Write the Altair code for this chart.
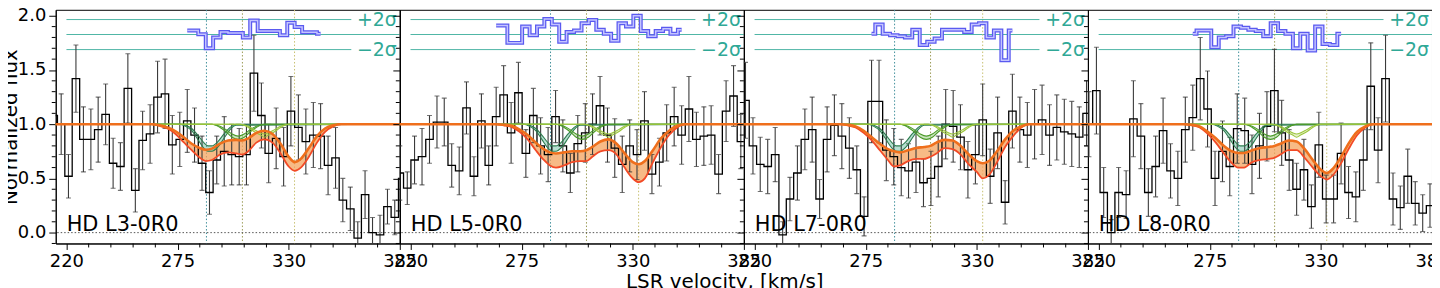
import altair as alt
import pandas as pd

# ---------------- data ----------------
PANEL_LABELS = ["HD L3-0R0", "HD L5-0R0", "HD L7-0R0", "HD L8-0R0"]

VEL_L3 = [213.7, 217.4, 221.0, 224.7, 228.4, 232.1, 235.7, 239.4, 243.1, 246.7, 250.4, 254.1,
          257.7, 261.4, 265.1, 268.8, 272.4, 276.1, 279.8, 283.4, 287.1, 290.8, 294.4, 298.1,
          301.8, 305.5, 309.1, 312.8, 316.5, 320.1, 323.8, 327.5, 331.1, 334.8, 338.5, 342.2,
          345.8, 349.5, 353.2, 356.8, 360.5, 364.2, 367.8, 371.5, 375.2, 378.9, 382.5, 386.2]
VEL_L5 = [214.7, 218.4, 222.0, 225.7, 229.4, 233.1, 236.7, 240.4, 244.1, 247.7, 251.4, 255.1,
          258.7, 262.4, 266.1, 269.8, 273.4, 277.1, 280.8, 284.4, 288.1, 291.8, 295.4, 299.1,
          302.8, 306.5, 310.1, 313.8, 317.5, 321.1, 324.8, 328.5, 332.1, 335.8, 339.5, 343.2,
          346.8, 350.5, 354.2, 357.8, 361.5, 365.2, 368.8, 372.5, 376.2, 379.9, 383.5, 387.2]
VEL_L7 = [215.5, 219.2, 222.8, 226.5, 230.2, 233.9, 237.5, 241.2, 244.9, 248.5, 252.2, 255.9,
          259.5, 263.2, 266.9, 270.6, 274.2, 277.9, 281.6, 285.2, 288.9, 292.6, 296.2, 299.9,
          303.6, 307.3, 310.9, 314.6, 318.3, 321.9, 325.6, 329.3, 332.9, 336.6, 340.3, 344.0,
          347.6, 351.3, 355.0, 358.6, 362.3, 366.0, 369.6, 373.3, 377.0, 380.7, 384.3, 388.0]
VEL_L8 = [215.2, 218.9, 222.5, 226.2, 229.9, 233.6, 237.2, 240.9, 244.6, 248.2, 251.9, 255.6,
          259.2, 262.9, 266.6, 270.3, 273.9, 277.6, 281.3, 284.9, 288.6, 292.3, 295.9, 299.6,
          303.3, 307.0, 310.6, 314.3, 318.0, 321.6, 325.3, 329.0, 332.6, 336.3, 340.0, 343.7,
          347.3, 351.0, 354.7, 358.3, 362.0, 365.7, 369.3, 373.0, 376.7, 380.4, 384.0, 387.7]

FLUX_L3 = [1.08, 1.00, 0.52, 1.42, 0.86, 0.86, 0.95, 1.09, 0.64, 0.61, 1.33, 0.39,
           0.85, 0.91, 1.25, 1.28, 0.81, 0.86, 1.03, 0.90, 0.64, 0.37, 0.67, 0.75,
           0.72, 0.70, 0.72, 1.47, 1.08, 0.73, 0.87, 0.70, 1.12, 0.97, 0.84, 0.90,
           0.89, 0.62, 0.69, 0.30, 0.22, -0.05, 0.35, 0.00, -0.02, 0.24, 0.14, 0.50]
ERR_L3 = [0.28, 0.28, 0.20, 0.31, 0.30, 0.28, 0.30, 0.28, 0.23, 0.22, 0.32, 0.20,
          0.27, 0.27, 0.33, 0.32, 0.27, 0.25, 0.29, 0.25, 0.25, 0.20, 0.22, 0.32,
          0.28, 0.26, 0.28, 0.35, 0.30, 0.27, 0.28, 0.27, 0.32, 0.30, 0.30, 0.30,
          0.30, 0.27, 0.28, 0.20, 0.20, 0.15, 0.22, 0.14, 0.18, 0.16, 0.16, 0.20]

FLUX_L5 = [0.55, 0.41, 0.67, 0.70, 0.86, 1.02, 1.02, 0.62, 0.57, 1.15, 0.52, 1.03,
           0.62, 1.07, 1.27, 0.92, 1.29, 0.73, 1.08, 0.80, 0.72, 1.07, 0.80, 0.55,
           0.82, 0.92, 1.00, 1.17, 0.90, 0.78, 0.63, 0.80, 0.72, 1.03, 0.54, 0.65,
           0.92, 1.07, 0.90, 1.14, 0.86, 0.89, 0.90, 0.54, 1.12, 1.26, 0.84, 1.20]
ERR_L5 = [0.25, 0.15, 0.22, 0.26, 0.22, 0.24, 0.22, 0.20, 0.22, 0.24, 0.18, 0.25,
          0.18, 0.27, 0.27, 0.28, 0.28, 0.22, 0.25, 0.26, 0.25, 0.24, 0.24, 0.18,
          0.26, 0.27, 0.28, 0.27, 0.25, 0.27, 0.26, 0.24, 0.23, 0.27, 0.18, 0.22,
          0.26, 0.27, 0.27, 0.30, 0.25, 0.27, 0.27, 0.18, 0.28, 0.28, 0.25, 0.28]

FLUX_L7 = [1.22, 0.80, 0.63, 0.61, 0.72, -0.02, 0.31, 0.55, 0.86, 0.95, 0.31, 0.86,
           0.99, 0.89, 0.78, 0.58, 0.15, 1.21, 1.21, 0.76, 0.70, 0.60, 0.57, 0.65,
           0.46, 0.50, 0.61, 1.00, 0.98, 0.88, 0.58, 0.72, 1.04, 0.52, 0.92, 0.28,
           1.12, 0.95, 0.90, 1.00, 1.04, 0.90, 0.97, 0.93, 0.91, 0.88, 1.10, 1.10]
ERR_L7 = [0.35, 0.26, 0.25, 0.25, 0.25, 0.12, 0.20, 0.25, 0.28, 0.30, 0.18, 0.30,
          0.28, 0.30, 0.28, 0.22, 0.18, 0.38, 0.38, 0.28, 0.26, 0.26, 0.25, 0.28,
          0.22, 0.25, 0.28, 0.32, 0.33, 0.30, 0.26, 0.27, 0.33, 0.25, 0.33, 0.20,
          0.34, 0.30, 0.30, 0.32, 0.32, 0.28, 0.30, 0.30, 0.30, 0.28, 0.30, 0.30]

FLUX_L8 = [1.00, 1.31, 0.37, 0.00, 0.37, 0.35, 1.05, 0.89, 0.37, 0.61, 0.94, 0.57,
           0.50, 0.95, 1.06, 1.42, 1.14, 0.50, 0.75, 0.61, 0.96, 0.94, 0.63, 0.80,
           0.98, 1.31, 0.92, 0.67, 0.40, 0.58, 0.24, 0.81, 0.31, 0.31, 0.73, 0.37,
           0.33, 0.67, 1.35, 0.76, 1.42, 0.31, 0.23, 0.52, 0.27, 0.18, 0.25, 0.25]
ERR_L8 = [0.30, 0.40, 0.23, 0.12, 0.23, 0.22, 0.35, 0.30, 0.22, 0.28, 0.30, 0.25,
          0.25, 0.30, 0.30, 0.38, 0.35, 0.25, 0.28, 0.27, 0.32, 0.30, 0.27, 0.30,
          0.32, 0.38, 0.30, 0.28, 0.24, 0.28, 0.20, 0.30, 0.22, 0.22, 0.28, 0.24,
          0.23, 0.28, 0.40, 0.30, 0.40, 0.24, 0.20, 0.25, 0.20, 0.17, 0.20, 0.20]

# residuals (blue, top): first bin index and values
RES_START = [18, 13, 17, 14]
RES_L3 = [1.865, 1.865, 1.83, 1.70, 1.80, 1.85, 1.84, 1.84, 1.80, 1.957, 1.86, 1.86,
          1.86, 1.82, 1.935, 1.896, 1.847, 1.847, 1.835]
RES_L5 = [1.91, 1.91, 1.75, 1.75, 1.90, 1.82, 1.90, 1.97, 1.92, 1.76, 1.85, 1.865, 1.93,
          1.96, 1.87, 1.835, 1.77, 1.93, 1.90, 2.00, 1.86, 1.81, 1.86, 1.88, 1.835, 1.87]
RES_L7 = [1.835, 1.92, 1.835, 1.82, 1.81, 1.80, 1.87, 1.73, 1.76, 1.79, 1.87, 1.87,
          1.87, 1.85, 1.92, 1.93, 1.80, 1.865, 1.59, 1.865]
RES_L8 = [1.835, 1.865, 1.865, 1.71, 1.80, 1.81, 1.90, 1.89, 1.87, 1.86, 1.81, 1.93,
          1.86, 1.835, 1.70, 1.835, 1.68, 1.90, 1.74, 1.73, 1.835]

SIGMA_LEVELS = [1.965, 1.827, 1.688]   # +2 sigma, centre, -2 sigma

# full model (orange band): upper / lower edge
MODEL_V = [214, 262, 266, 270, 274, 278, 282, 286, 289, 292, 296, 300, 304, 307, 310,
           314, 318, 322, 326, 330, 333, 336, 340, 344, 348, 352, 356, 386]
UP_L3 = [1.0, 1.0, 0.99, 0.97, 0.935, 0.88, 0.82, 0.78, 0.765, 0.775, 0.82, 0.85, 0.855,
         0.85, 0.87, 0.92, 0.94, 0.91, 0.82, 0.70, 0.65, 0.68, 0.78, 0.89, 0.96, 0.99, 1.0, 1.0]
LO_L3 = [1.0, 1.0, 0.985, 0.96, 0.91, 0.835, 0.76, 0.69, 0.66, 0.67, 0.72, 0.74, 0.73,
         0.72, 0.75, 0.83, 0.86, 0.83, 0.73, 0.61, 0.57, 0.60, 0.70, 0.83, 0.93, 0.98, 1.0, 1.0]
UP_L5 = [1.0, 1.0, 0.995, 0.985, 0.95, 0.90, 0.83, 0.77, 0.74, 0.73, 0.74, 0.75, 0.75,
         0.76, 0.79, 0.84, 0.86, 0.82, 0.73, 0.65, 0.63, 0.66, 0.76, 0.87, 0.94, 0.985, 1.0, 1.0]
LO_L5 = [1.0, 1.0, 0.99, 0.975, 0.93, 0.86, 0.76, 0.67, 0.62, 0.60, 0.62, 0.65, 0.66,
         0.66, 0.70, 0.75, 0.76, 0.72, 0.60, 0.50, 0.465, 0.50, 0.65, 0.79, 0.90, 0.97, 1.0, 1.0]
UP_L7 = [1.0, 1.0, 0.995, 0.98, 0.94, 0.88, 0.82, 0.77, 0.75, 0.74, 0.76, 0.78, 0.79,
         0.80, 0.83, 0.855, 0.85, 0.80, 0.72, 0.66, 0.64, 0.66, 0.75, 0.86, 0.94, 0.98, 1.0, 1.0]
LO_L7 = [1.0, 1.0, 0.99, 0.97, 0.92, 0.85, 0.76, 0.67, 0.61, 0.62, 0.66, 0.68, 0.68,
         0.70, 0.73, 0.78, 0.77, 0.72, 0.63, 0.56, 0.50, 0.53, 0.65, 0.79, 0.89, 0.97, 1.0, 1.0]
UP_L8 = [1.0, 1.0, 0.995, 0.98, 0.93, 0.87, 0.80, 0.75, 0.735, 0.735, 0.76, 0.78, 0.79,
         0.80, 0.82, 0.85, 0.84, 0.77, 0.67, 0.58, 0.55, 0.59, 0.70, 0.83, 0.93, 0.98, 1.0, 1.0]
LO_L8 = [1.0, 1.0, 0.99, 0.97, 0.91, 0.83, 0.73, 0.64, 0.60, 0.60, 0.65, 0.67, 0.68,
         0.69, 0.72, 0.76, 0.76, 0.69, 0.60, 0.52, 0.49, 0.53, 0.64, 0.78, 0.90, 0.97, 1.0, 1.0]

# individual (green) components: velocity, upper edge, lower edge
COMP_A_V = [214, 276, 279, 282, 285, 288, 290, 292, 295, 298, 301, 304, 386]
COMP_A_UP = [1.0, 1.0, 0.99, 0.96, 0.90, 0.83, 0.80, 0.80, 0.84, 0.91, 0.97, 1.0, 1.0]
COMP_A_LO = [1.0, 1.0, 0.98, 0.94, 0.86, 0.78, 0.75, 0.75, 0.79, 0.87, 0.95, 0.99, 1.0]
COMP_B_V = [214, 292, 296, 299, 302, 305, 308, 311, 314, 318, 386]
COMP_B_UP = [1.0, 1.0, 0.98, 0.95, 0.91, 0.89, 0.91, 0.95, 0.98, 1.0, 1.0]
COMP_B_LO = [1.0, 1.0, 0.97, 0.93, 0.88, 0.86, 0.88, 0.93, 0.97, 1.0, 1.0]
COMP_C_V = [214, 306, 310, 313, 316, 318, 320, 323, 326, 330, 386]
COMP_C_UP = [1.0, 1.0, 0.98, 0.95, 0.92, 0.91, 0.92, 0.95, 0.98, 1.0, 1.0]
COMP_C_LO = [1.0, 1.0, 0.97, 0.93, 0.90, 0.88, 0.90, 0.93, 0.97, 1.0, 1.0]

COMP_LINES_V = [289.3, 307.1, 332.9]

X_MAJOR = [220, 275, 330, 385]
X_MINOR = [231, 242, 253, 264, 286, 297, 308, 319, 341, 352, 363, 374]
Y_MAJOR = [0.0, 0.5, 1.0, 1.5, 2.0]
Y_MINOR = [-0.1, 0.1, 0.2, 0.3, 0.4, 0.6, 0.7, 0.8, 0.9, 1.1, 1.2, 1.3, 1.4, 1.6, 1.7,
           1.8, 1.9]

PANELS = [
    (VEL_L3, FLUX_L3, ERR_L3, RES_L3, UP_L3, LO_L3),
    (VEL_L5, FLUX_L5, ERR_L5, RES_L5, UP_L5, LO_L5),
    (VEL_L7, FLUX_L7, ERR_L7, RES_L7, UP_L7, LO_L7),
    (VEL_L8, FLUX_L8, ERR_L8, RES_L8, UP_L8, LO_L8),
]

# ---------------- styling ----------------
W, H = 346, 235
XS = alt.Scale(domain=[214.7, 385.0], nice=False, zero=False)
YS = alt.Scale(domain=[-0.1, 2.055], nice=False, zero=False)
FONT = "DejaVu Sans"
TEAL = "#4fb5a5"
TEAL_TXT = "#2fa896"
ORANGE_FILL = "#f4a35e"
ORANGE_UP = "#ef6f1c"
ORANGE_LO = "#f24a26"
GREENS = [("#2e7d4f", "#5fb89a"), ("#4c9a2a", "#8cc870"), ("#9bc53d", "#c8e08a")]
VLINE_COLORS = ["#3f8f9a", "#9a9a55", "#c8c070"]


def xenc(field="v", axis=alt.Undefined):
    return alt.X(f"{field}:Q", scale=XS, axis=axis)


def yenc(field="f", axis=alt.Undefined):
    return alt.Y(f"{field}:Q", scale=YS, axis=axis)


def make_panel(k):
    vel, flux, err, res, up, lo = PANELS[k]
    first = k == 0
    data = pd.DataFrame({"v": vel, "f": flux,
                         "lo": [a - b for a, b in zip(flux, err)],
                         "hi": [a + b for a, b in zip(flux, err)]})
    s = RES_START[k]
    resid = pd.DataFrame({"v": vel[s:s + len(res)], "f": res})
    model = pd.DataFrame({"v": MODEL_V, "up": up, "lo": lo})

    x_axis = alt.Axis(values=X_MAJOR, format="d", tickSize=6, labelFontSize=18,
                      labelPadding=3, labelFlush=False, labelOverlap=False, grid=False,
                      title=None)
    if first:
        y_axis = alt.Axis(values=Y_MAJOR, format=".1f", tickSize=7, labelFontSize=18,
                          labelPadding=3, grid=False, title="Normalized flux",
                          titleFontSize=20, titleFontWeight="normal", titlePadding=-3)
    else:
        y_axis = alt.Axis(values=Y_MAJOR, labels=False, tickSize=7, grid=False, title=None)

    layers = []
    # invisible carrier of the axes
    layers.append(alt.Chart(data).mark_line(interpolate="step", opacity=0, clip=True)
                  .encode(x=xenc("v", x_axis), y=yenc("f", y_axis)))
    # minor ticks
    mx = pd.DataFrame({"v": X_MINOR})
    layers.append(alt.Chart(mx).mark_rule(color="black", strokeWidth=1)
                  .encode(x=xenc("v"), y=alt.value(H), y2=alt.value(H + 4)))
    my = pd.DataFrame({"f": Y_MINOR})
    layers.append(alt.Chart(my).mark_rule(color="black", strokeWidth=1)
                  .encode(y=yenc("f"), x=alt.value(0), x2=alt.value(-4)))
    # sigma guide lines
    sig = pd.DataFrame({"v": [220, 220, 220], "v2": [361, 385, 361], "f": SIGMA_LEVELS})
    layers.append(alt.Chart(sig).mark_rule(color=TEAL, strokeWidth=1, clip=True)
                  .encode(x=xenc("v"), x2="v2:Q", y=yenc("f")))
    sig_t = pd.DataFrame({"f": [SIGMA_LEVELS[0], SIGMA_LEVELS[2]], "t": ["+2σ", "−2σ"]})
    layers.append(alt.Chart(sig_t).mark_text(align="right", baseline="middle", fontSize=19,
                                              font=FONT, color=TEAL_TXT)
                  .encode(x=alt.value(W - 3), y=yenc("f"), text="t:N"))
    # component centre lines
    vl = pd.DataFrame({"v": COMP_LINES_V, "c": VLINE_COLORS})
    layers.append(alt.Chart(vl).mark_rule(strokeWidth=1, strokeDash=[1.5, 2], clip=True)
                  .encode(x=xenc("v"), color=alt.Color("c:N", scale=None)))
    zero = pd.DataFrame({"f": [0.0]})
    layers.append(alt.Chart(zero).mark_rule(color="#555555", strokeWidth=1, strokeDash=[1.5, 2])
                  .encode(y=yenc("f")))
    # residuals
    layers.append(alt.Chart(resid).mark_line(interpolate="step", color="#5a5af0",
                                             strokeWidth=4, clip=True)
                  .encode(x=xenc(), y=yenc()))
    layers.append(alt.Chart(resid).mark_line(interpolate="step", color="#c4c4ff",
                                             strokeWidth=1.5, clip=True)
                  .encode(x=xenc(), y=yenc()))
    # orange model band fill
    layers.append(alt.Chart(model).mark_area(interpolate="monotone", color=ORANGE_FILL,
                                             opacity=0.75, clip=True)
                  .encode(x=xenc(), y=yenc("lo"), y2="up:Q"))
    # green component band fills
    comps = [(COMP_A_V, COMP_A_UP, COMP_A_LO), (COMP_B_V, COMP_B_UP, COMP_B_LO),
             (COMP_C_V, COMP_C_UP, COMP_C_LO)]
    comp_dfs = [pd.DataFrame({"v": cv, "up": cu, "lo": cl}) for cv, cu, cl in comps]
    for df, (lc, fc) in zip(comp_dfs, GREENS):
        layers.append(alt.Chart(df).mark_area(interpolate="monotone", color=fc,
                                              opacity=0.45, clip=True)
                      .encode(x=xenc(), y=yenc("lo"), y2="up:Q"))
    # error bars and caps
    layers.append(alt.Chart(data).mark_rule(color="#3a3a3a", strokeWidth=1.1, clip=True)
                  .encode(x=xenc(), y=yenc("lo"), y2="hi:Q"))
    for fld in ["lo", "hi"]:
        layers.append(alt.Chart(data).mark_tick(orient="horizontal", size=5, thickness=1.1,
                                                color="#3a3a3a", clip=True)
                      .encode(x=xenc(), y=yenc(fld)))
    # histogram
    layers.append(alt.Chart(data).mark_line(interpolate="step", color="black",
                                            strokeWidth=1.3, clip=True)
                  .encode(x=xenc(), y=yenc()))
    # green component edges
    for df, (lc, fc) in zip(comp_dfs, GREENS):
        for fld in ["lo", "up"]:
            layers.append(alt.Chart(df).mark_line(interpolate="monotone", color=lc,
                                                  strokeWidth=1.1, clip=True)
                          .encode(x=xenc(), y=yenc(fld)))
    # orange model edges
    layers.append(alt.Chart(model).mark_line(interpolate="monotone", color=ORANGE_LO,
                                             strokeWidth=1.8, clip=True)
                  .encode(x=xenc(), y=yenc("lo")))
    layers.append(alt.Chart(model).mark_line(interpolate="monotone", color=ORANGE_UP,
                                             strokeWidth=2.6, clip=True)
                  .encode(x=xenc(), y=yenc("up")))
    # panel label
    lab = pd.DataFrame({"t": [PANEL_LABELS[k]]})
    layers.append(alt.Chart(lab).mark_text(align="left", baseline="alphabetic", fontSize=21,
                                           font=FONT, color="black")
                  .encode(x=alt.value(11), y=alt.value(H - 13), text="t:N"))

    return alt.layer(*layers).properties(width=W, height=H)


chart = (alt.hconcat(*[make_panel(k) for k in range(4)], spacing=0, bounds="flush")
         .properties(padding={"left": -9, "top": -3, "right": -18, "bottom": 0},
                     title=alt.TitleParams("LSR velocity, [km/s]", orient="bottom",
                                           anchor="middle", fontSize=20, fontWeight="normal",
                                           font=FONT, offset=1, color="black"))
         .configure(font=FONT)
         .configure_axis(domainColor="black", tickColor="black", labelColor="black",
                         titleColor="black", domainWidth=1, tickWidth=1, labelFont=FONT,
                         titleFont=FONT)
         .configure_view(stroke="black", strokeWidth=1))

chart.save("out.html", embed_options={"renderer": "svg", "actions": False})
